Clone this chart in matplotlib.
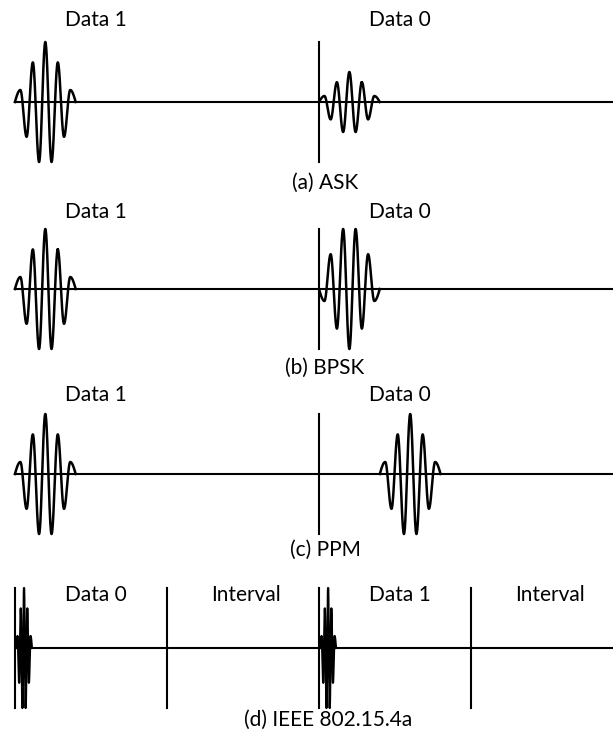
import matplotlib.pyplot as plt
import numpy as np

plt.rcParams['font.family'] = ['Lato', 'DejaVu Sans']

# lobe peaks of one UWB pulse, normalised to the largest lobe
pulse_lobes = [0.2, -0.58, 0.66, -1.0, 1.0, -1.0, 0.66, -0.58, 0.2]

ask_labels = ["Data 1", "Data 0"]
ask_amplitudes = [1.0, 0.5]

bpsk_labels = ["Data 1", "Data 0"]
bpsk_signs = [1.0, -1.0]

ppm_labels = ["Data 1", "Data 0"]
ppm_shifts = [0.0, 0.2]

ieee_labels = ["Data 0", "Interval", "Data 1", "Interval"]

captions = ["(a) ASK", "(b) BPSK", "(c) PPM", "(d) IEEE 802.15.4a"]

# time in symbol periods
pulse_width = 0.2
short_pulse_width = 0.052
t_min, t_max = -0.049, 1.967


def pulse(t0, width, lobes, scale=1.0):
    """Smooth oscillating pulse through the given lobe peaks."""
    edge = 0.09 * width
    peaks_t = np.linspace(t0 + edge, t0 + width - edge, len(lobes))
    ts, ys = [], []
    s = np.linspace(0, 1, 30)
    ts.append(t0 + edge * s)
    ys.append(lobes[0] * np.sin(np.pi / 2 * s))
    for i in range(len(lobes) - 1):
        a, b = lobes[i], lobes[i + 1]
        ts.append(peaks_t[i] + (peaks_t[i + 1] - peaks_t[i]) * s)
        ys.append((a + b) / 2 + (a - b) / 2 * np.cos(np.pi * s))
    ts.append(peaks_t[-1] + edge * s)
    ys.append(lobes[-1] * np.cos(np.pi / 2 * s))
    return np.concatenate(ts), scale * np.concatenate(ys)


W, H = 613, 740
fig = plt.figure(figsize=(W / 100, H / 100), dpi=100)

baselines = [102, 289, 474, 648]   # pixel rows of the time axes
half = 90                          # half height of each panel in pixels
unit = 60                          # pixels per unit amplitude


def panel(row):
    b = baselines[row]
    ax = fig.add_axes([0, (H - b - half) / H, 1, 2 * half / H])
    ax.set_xlim(t_min, t_max)
    ax.set_ylim(-half / unit, half / unit)
    ax.axis('off')
    return ax


sig_kw = dict(color='black', lw=1.8, solid_joinstyle='round')
axis_kw = dict(color='black', lw=1.5)
txt_kw = dict(ha='center', va='center', fontsize=15, clip_on=False)

# (a) ASK
ax = panel(0)
ax.plot([0, t_max], [0, 0], **axis_kw)
ax.plot([1, 1], [-1, 1], **axis_kw)
for k, (lab, amp) in enumerate(zip(ask_labels, ask_amplitudes)):
    t, y = pulse(k, pulse_width, pulse_lobes, amp)
    ax.plot(t, y, **sig_kw)
    ax.text(k + 0.265, 1.37, lab, **txt_kw)
ax.text(1.02, -1.35, captions[0], **txt_kw)

# (b) BPSK
ax = panel(1)
ax.plot([0, t_max], [0, 0], **axis_kw)
ax.plot([1, 1], [-1, 1], **axis_kw)
for k, (lab, sgn) in enumerate(zip(bpsk_labels, bpsk_signs)):
    t, y = pulse(k, pulse_width, pulse_lobes, sgn)
    ax.plot(t, y, **sig_kw)
    ax.text(k + 0.265, 1.28, lab, **txt_kw)
ax.text(1.02, -1.32, captions[1], **txt_kw)

# (c) PPM
ax = panel(2)
ax.plot([0, t_max], [0, 0], **axis_kw)
ax.plot([1, 1], [-1, 1], **axis_kw)
for k, (lab, shift) in enumerate(zip(ppm_labels, ppm_shifts)):
    t, y = pulse(k + shift, pulse_width, pulse_lobes)
    ax.plot(t, y, **sig_kw)
    ax.text(k + 0.265, 1.32, lab, **txt_kw)
ax.text(1.02, -1.27, captions[2], **txt_kw)

# (d) IEEE 802.15.4a burst positions
ax = panel(3)
ax.plot([0, t_max], [0, 0], **axis_kw)
for k, lab in enumerate(ieee_labels):
    ax.plot([k * 0.5, k * 0.5], [-1, 1], **axis_kw)
    ax.text(k * 0.5 + (0.265 if lab.startswith("Data") else 0.26), 0.88, lab, **txt_kw)
for k in (0, 1):
    t, y = pulse(k + 0.004, short_pulse_width, pulse_lobes)
    ax.plot(t, y, color='black', lw=1.6)
ax.text(1.03, -1.2, captions[3], **txt_kw)

fig.savefig("out.png", dpi=100)
